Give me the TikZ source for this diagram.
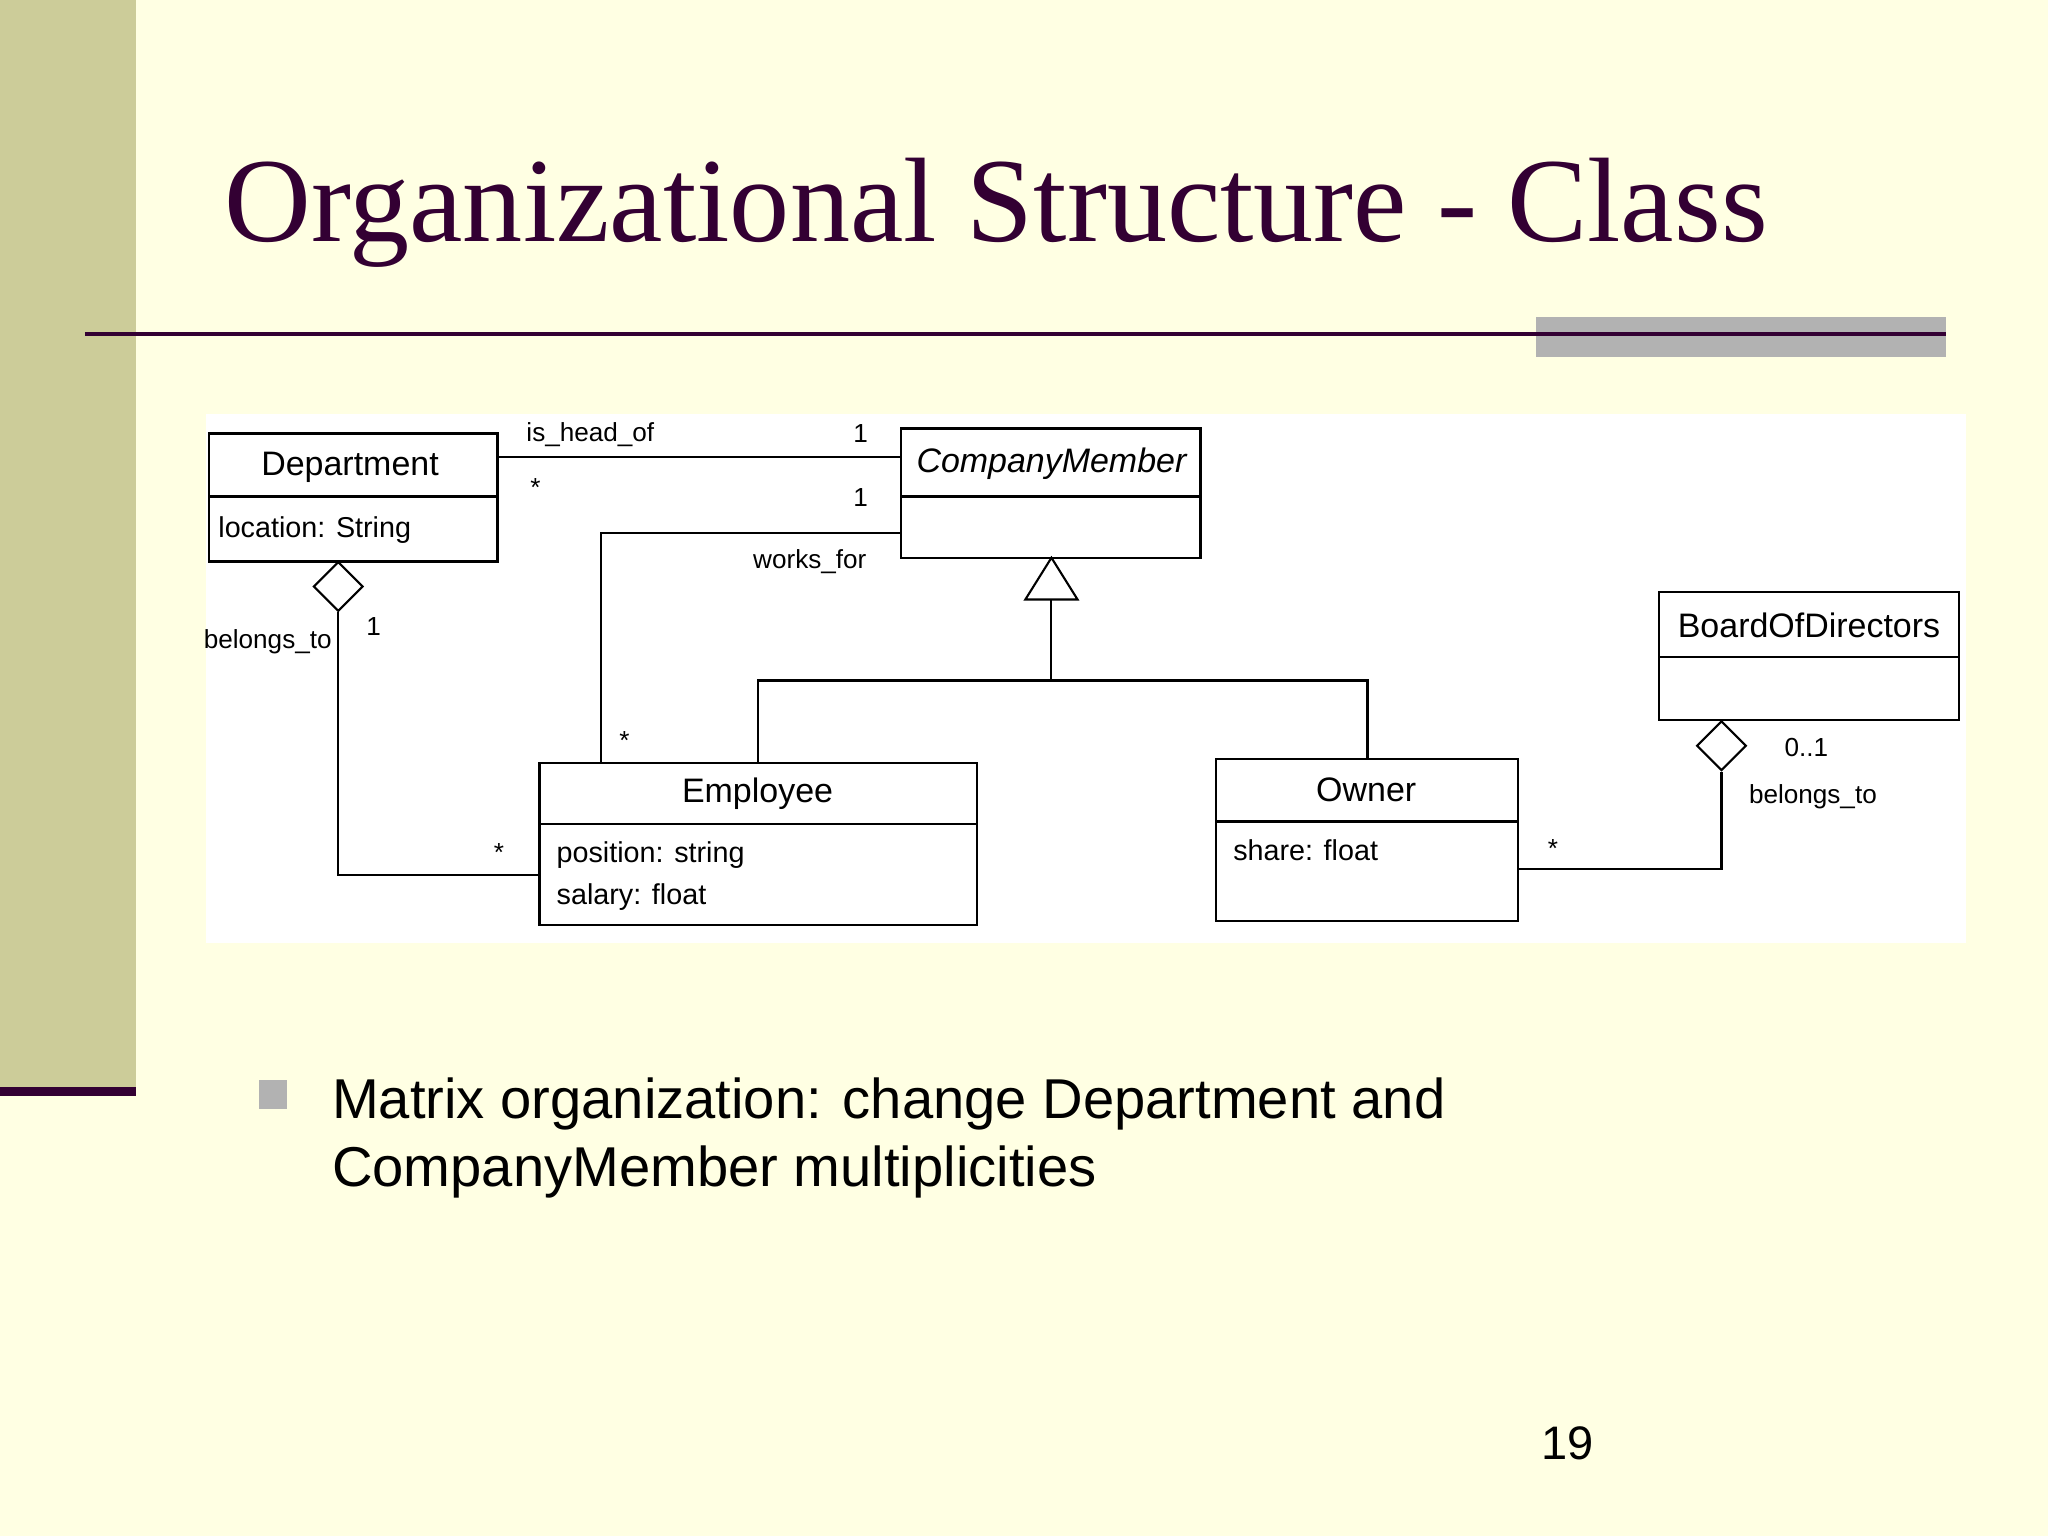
\documentclass[tikz,border=0pt]{standalone}
\usepackage{fontspec}
\setmainfont{Liberation Serif}
\setsansfont{Liberation Sans}
\usetikzlibrary{shapes.geometric}
\definecolor{bg}{RGB}{255,255,227}
\definecolor{bar}{RGB}{204,204,153}
\definecolor{dpurple}{RGB}{51,0,51}
\definecolor{grayb}{RGB}{178,178,178}
\begin{document}
\begin{tikzpicture}[x=1pt,y=1pt,
  box/.style={draw,line width=1.8pt,inner sep=0,fill=white},
  cname/.style={font=\sffamily\fontsize{26}{26}\selectfont,inner sep=0},
  attr/.style={font=\sffamily\fontsize{22}{22}\selectfont,inner sep=0,anchor=west},
  lbl/.style={font=\sffamily\fontsize{20}{20}\selectfont,inner sep=0},
  conn/.style={line width=1.6pt},
  dia/.style={diamond,draw,line width=1.6pt,fill=white,minimum width=38pt,minimum height=38pt,inner sep=0,aspect=1}]
\useasboundingbox (0,0) rectangle (1568,-1176);
\fill[bg] (0,0) rectangle (1568,-1176);
\fill[bar] (0,0) rectangle (104,-835);
\fill[dpurple] (0,-832) rectangle (104,-839);
\fill[grayb] (1176,-243) rectangle (1490,-273);
\draw[dpurple,line width=3pt] (65,-256) -- (1490,-256);
\node[font=\fontsize{92}{92}\selectfont,text=dpurple,anchor=base west,inner sep=0] (title) at (172,-185) {Organizational Structure - Class};
\fill[white] (158,-317) rectangle (1505,-722);
% classes
\node[box,minimum width=221pt,minimum height=98pt] (dep) at (270.5,-381) {};
\draw[line width=1.8pt] (160,-380) -- (381,-380);
\node[cname] (depn) at (268,-358) {Department};
\node[attr] (depa) at (167,-406) {location: String};
\node[box,minimum width=229pt,minimum height=99pt] (cm) at (804.5,-377.5) {};
\draw[line width=1.8pt] (690,-380) -- (919,-380);
\node[cname,font=\sffamily\itshape\fontsize{26}{26}\selectfont] (cmn) at (805,-355) {CompanyMember};
\node[box,minimum width=230pt,minimum height=98pt] (bod) at (1385,-502) {};
\draw[line width=1.8pt] (1270,-503) -- (1500,-503);
\node[cname] (bodn) at (1385,-479) {BoardOfDirectors};
\node[box,minimum width=335pt,minimum height=124pt] (emp) at (580.5,-646) {};
\draw[line width=1.8pt] (413,-631) -- (748,-631);
\node[cname] (empn) at (580,-608) {Employee};
\node[attr] (empa) at (426,-655) {position: string};
\node[attr] (empb) at (426,-687) {salary: float};
\node[box,minimum width=231pt,minimum height=124pt] (own) at (1046.5,-643) {};
\draw[line width=1.8pt] (931,-629) -- (1162,-629);
\node[cname] (ownn) at (1046,-605) {Owner};
\node[attr] (owna) at (944,-651) {share: float};
% is_head_of
\coordinate (h1) at (381,-350); \coordinate (h2) at (690,-350);
\draw[conn] (h1) -- (h2);
\node[lbl] (l1) at (452,-333) {is\_head\_of};
\node[lbl] (l2) at (659,-332) {1};
\node[lbl] (l3) at (410,-373) {*};
% works_for
\coordinate (w1) at (690,-408); \coordinate (w2) at (460,-584);
\draw[conn] (w1) -| (w2);
\node[lbl] (l4) at (659,-381) {1};
\node[lbl] (l5) at (620,-430) {works\_for};
\node[lbl] (l6) at (478,-567) {*};
% belongs_to dep
\node[dia] (d1) at (259,-449) {};
\coordinate (b1) at (413,-670);
\draw[conn] (d1.south) |- (b1);
\node[lbl] (l7) at (205,-491) {belongs\_to};
\node[lbl] (l8) at (286,-480) {1};
\node[lbl] (l9) at (382,-653) {*};
% generalization
\coordinate (t0) at (805,-427); \coordinate (t1) at (805,-459);
\draw[conn,fill=white] (t0) -- (785,-459) -- (825,-459) -- cycle;
\coordinate (gj) at (805,-521);
\coordinate (ge) at (580,-584); \coordinate (go) at (1047,-581);
\draw[conn] (t1) -- (gj);
\draw[conn] (ge) |- (gj) -| (go);
% belongs_to board
\node[dia] (d2) at (1318,-571) {};
\coordinate (b2) at (1162,-665);
\draw[conn] (d2.south) |- (b2);
\node[lbl] (l10) at (1383,-572) {0..1};
\node[lbl] (l11) at (1388,-610) {belongs\_to};
\node[lbl] (l12) at (1189,-650) {*};
% bullet
\fill[grayb] (198,-827) rectangle (220,-849);
\node[font=\sffamily\fontsize{43}{52}\selectfont,anchor=north west,align=left,inner sep=0] (txt) at (254,-825) {Matrix organization: change Department and\\CompanyMember multiplicities};
\node[font=\sffamily\fontsize{36}{36}\selectfont,inner sep=0] (pg) at (1200,-1105) {19};
\end{tikzpicture}
\end{document}
